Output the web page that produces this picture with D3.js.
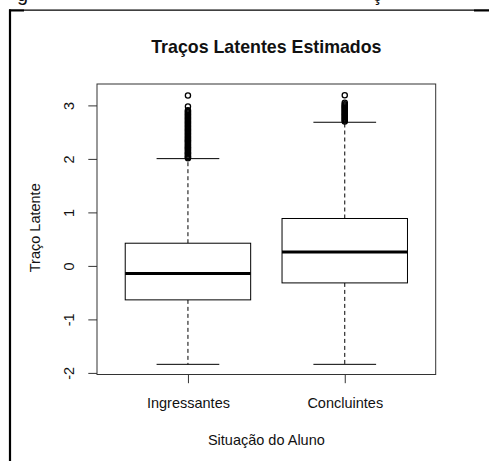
<!DOCTYPE html>
<html>
<head>
<meta charset="utf-8">
<script src="https://cdn.jsdelivr.net/npm/d3@7"></script>
<style>
  html, body { margin: 0; padding: 0; background: #fff; }
  svg { display: block; }
  text { font-family: "Liberation Sans", Arial, sans-serif; fill: #111; }
</style>
</head>
<body>
<svg id="chart" width="489" height="461"></svg>
<script>
// ---- data ----
const categories = ["Ingressantes", "Concluintes"];
const lowerWhisker = [-1.84, -1.84];
const q1 = [-0.635, -0.318];
const median = [-0.142, 0.262];
const q3 = [0.424, 0.886];
const upperWhisker = [2.005, 2.685];
const outliersIngressantes = [2.01, 2.03, 2.04, 2.06, 2.08, 2.10, 2.11, 2.13, 2.15, 2.17, 2.19, 2.21,
  2.22, 2.24, 2.26, 2.28, 2.30, 2.32, 2.34, 2.35, 2.37, 2.39, 2.41, 2.43, 2.45, 2.47, 2.49, 2.51,
  2.53, 2.55, 2.57, 2.59, 2.61, 2.63, 2.65, 2.67, 2.69, 2.71, 2.73, 2.75, 2.77, 2.79, 2.81, 2.83,
  2.85, 2.87, 2.89, 2.91, 2.98, 3.185];
const outliersConcluintes = [2.70, 2.72, 2.74, 2.76, 2.78, 2.80, 2.82, 2.84, 2.86, 2.88, 2.90,
  2.92, 2.94, 2.96, 2.98, 3.00, 3.02, 3.05, 3.19];
const yTicks = [-2, -1, 0, 1, 2, 3];
const titleText = "Traços Latentes Estimados";
const xTitle = "Situação do Aluno";
const yTitle = "Traço Latente";

const outliers = [outliersIngressantes, outliersConcluintes];

const svg = d3.select("#chart");

// page border fragments (figure is cropped from a document)
svg.append("line").attr("x1", 10).attr("x2", 10).attr("y1", 9.5).attr("y2", 461)
  .attr("stroke", "#000").attr("stroke-width", 2.2);
svg.append("line").attr("x1", 9).attr("x2", 489).attr("y1", 10.2).attr("y2", 10.2)
  .attr("stroke", "#000").attr("stroke-width", 1.3);
svg.append("line").attr("x1", 9).attr("x2", 24).attr("y1", 10.5).attr("y2", 10.5)
  .attr("stroke", "#000").attr("stroke-width", 2);
svg.append("line").attr("x1", 474).attr("x2", 489).attr("y1", 10.5).attr("y2", 10.5)
  .attr("stroke", "#000").attr("stroke-width", 2);
// clipped caption glyphs from the text above (cut off in the reference too)
svg.append("text").attr("x", 17).attr("y", 1).attr("font-size", 20).text("g");
svg.append("text").attr("x", 372).attr("y", 1).attr("font-size", 20).text("ç");

// plot region
const pLeft = 97, pRight = 435.7, pTop = 84, pBottom = 374.5;

const x = d3.scaleLinear().domain([0.42, 2.58]).range([pLeft, pRight]);
const y = d3.scaleLinear().domain([-2.03, 3.40]).range([pBottom, pTop]);
const boxW = x(1.8) - x(1);      // box width 0.8 units
const capW = boxW / 2;           // staple = half the box width

const g = svg.append("g");

categories.forEach((c, i) => {
  const cx = x(i + 1);
  const grp = g.append("g");
  // whiskers (dashed)
  grp.append("line").attr("x1", cx).attr("x2", cx)
    .attr("y1", y(q3[i])).attr("y2", y(upperWhisker[i]))
    .attr("stroke", "#000").attr("stroke-width", 1).attr("stroke-dasharray", "4,3");
  grp.append("line").attr("x1", cx).attr("x2", cx)
    .attr("y1", y(q1[i])).attr("y2", y(lowerWhisker[i]))
    .attr("stroke", "#000").attr("stroke-width", 1).attr("stroke-dasharray", "4,3");
  // caps
  [upperWhisker[i], lowerWhisker[i]].forEach(v => {
    grp.append("line").attr("x1", cx - capW / 2).attr("x2", cx + capW / 2)
      .attr("y1", y(v)).attr("y2", y(v))
      .attr("stroke", "#000").attr("stroke-width", 1);
  });
  // box
  grp.append("rect").attr("x", cx - boxW / 2).attr("width", boxW)
    .attr("y", y(q3[i])).attr("height", y(q1[i]) - y(q3[i]))
    .attr("fill", "#fff").attr("stroke", "#000").attr("stroke-width", 1);
  // median
  grp.append("line").attr("x1", cx - boxW / 2).attr("x2", cx + boxW / 2)
    .attr("y1", y(median[i])).attr("y2", y(median[i]))
    .attr("stroke", "#000").attr("stroke-width", 3);
  // outliers
  grp.selectAll("circle").data(outliers[i]).enter().append("circle")
    .attr("cx", cx).attr("cy", d => y(d)).attr("r", 2.6)
    .attr("fill", "none").attr("stroke", "#000").attr("stroke-width", 1.3);
});

// frame
svg.append("rect").attr("x", pLeft).attr("y", pTop)
  .attr("width", pRight - pLeft).attr("height", pBottom - pTop)
  .attr("fill", "none").attr("stroke", "#333").attr("stroke-width", 1);

// y axis
const yAxis = svg.append("g").attr("transform", `translate(${pLeft},0)`)
  .call(d3.axisLeft(y).tickValues(yTicks).tickSize(8.7).tickSizeOuter(0).tickFormat(d => String(d)));
yAxis.select(".domain").remove();
yAxis.selectAll(".tick line").attr("stroke", "#333");
yAxis.selectAll(".tick text")
  .attr("transform", "rotate(-90)")
  .attr("x", 0).attr("y", -23.5).attr("dy", null)
  .attr("text-anchor", "middle")
  .attr("font-size", 14.5)
  .attr("font-family", "Liberation Sans, Arial, sans-serif")
  .attr("fill", "#111");

// x axis
const xAxis = svg.append("g").attr("transform", `translate(0,${pBottom})`)
  .call(d3.axisBottom(x).tickValues([1, 2]).tickSize(8.7).tickSizeOuter(0)
    .tickFormat(d => categories[d - 1]));
xAxis.select(".domain").remove();
xAxis.selectAll(".tick line").attr("stroke", "#333");
xAxis.selectAll(".tick text")
  .attr("y", 408.3 - pBottom).attr("dy", null)
  .attr("font-size", 14.5)
  .attr("font-family", "Liberation Sans, Arial, sans-serif")
  .attr("fill", "#111");

// titles
svg.append("text").attr("x", (pLeft + pRight) / 2).attr("y", 53.3)
  .attr("text-anchor", "middle").attr("font-size", 17.8).attr("font-weight", "bold")
  .text(titleText);
svg.append("text").attr("x", (pLeft + pRight) / 2).attr("y", 445.2)
  .attr("text-anchor", "middle").attr("font-size", 14.5)
  .text(xTitle);
svg.append("text").attr("transform", `translate(39.5,${(pTop + pBottom) / 2 - 1.5}) rotate(-90)`)
  .attr("text-anchor", "middle").attr("font-size", 14.5)
  .text(yTitle);
</script>
</body>
</html>
